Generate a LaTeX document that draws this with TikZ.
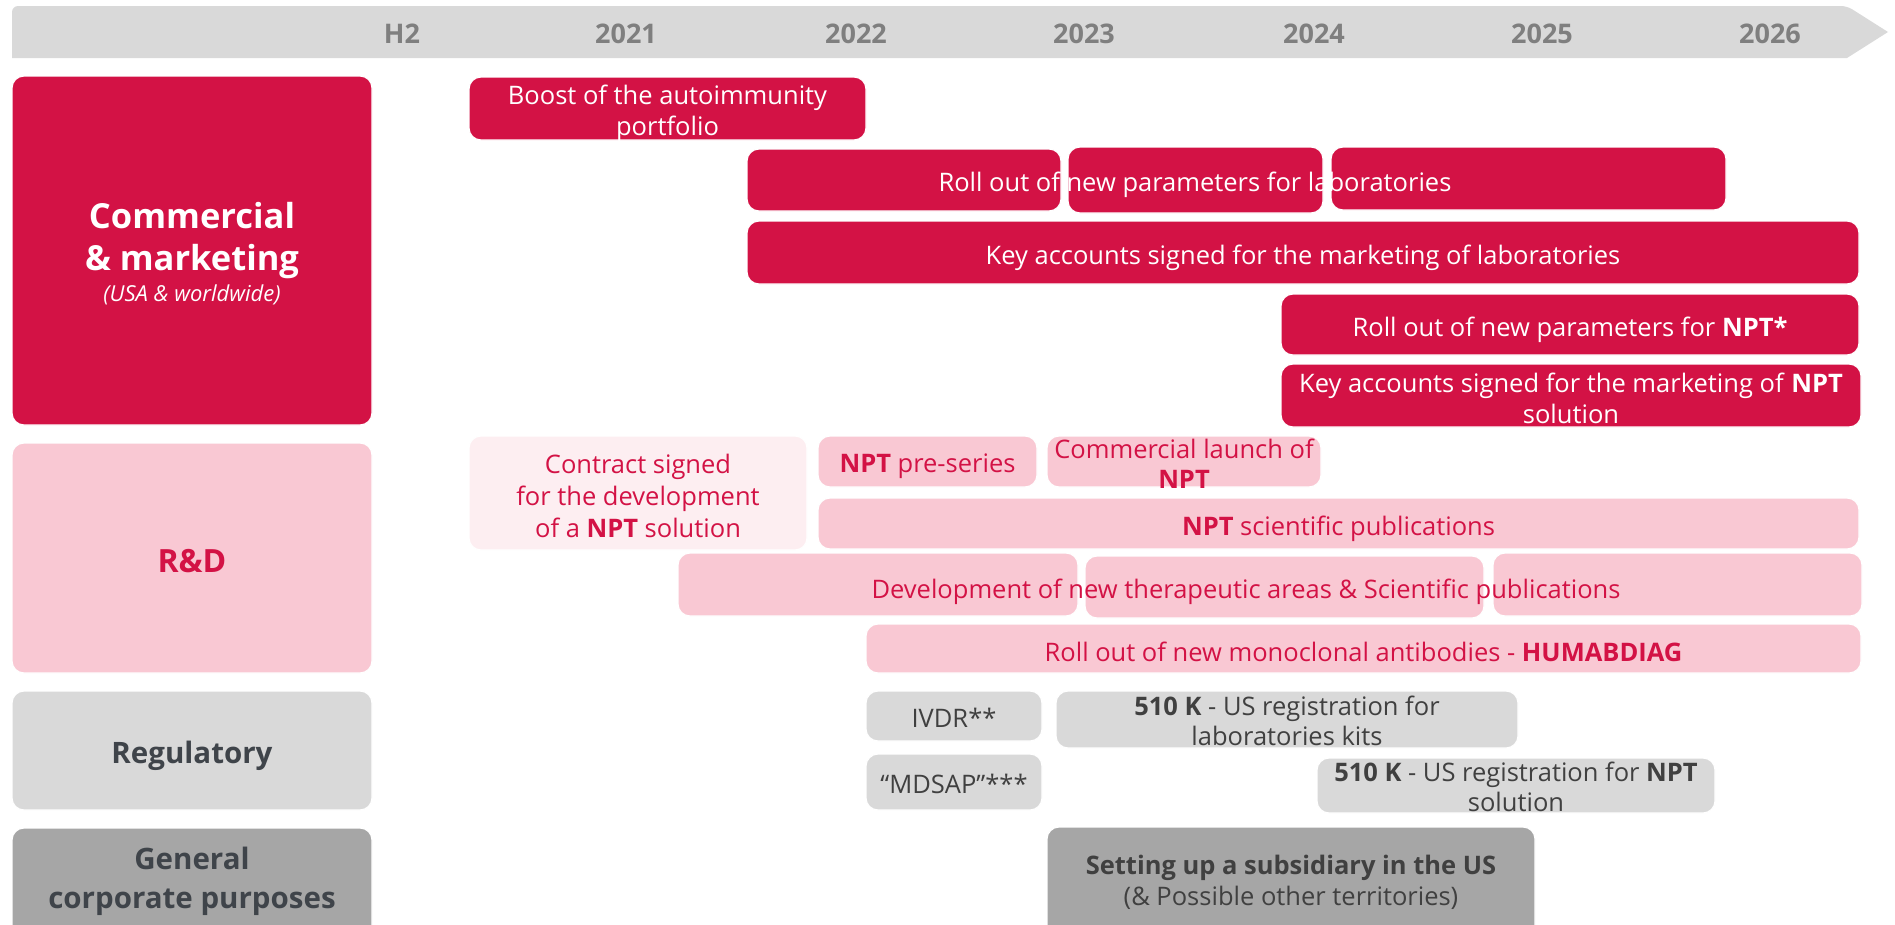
\documentclass[tikz,border=0pt]{standalone}
\usepackage{fontspec}
\setmainfont{Open Sans}
\definecolor{crim}{HTML}{D31245}
\definecolor{pinkA}{HTML}{F9C8D3}
\definecolor{pinkB}{HTML}{FDEEF1}
\definecolor{grayA}{HTML}{D9D9D9}
\definecolor{grayB}{HTML}{A6A6A6}
\definecolor{txtgray}{HTML}{404040}
\definecolor{slate}{HTML}{3F444A}
\definecolor{yeargray}{HTML}{7F7F7F}
\newcommand\tbox[6]{\node[#1, minimum width={(#5-#3)*1pt}, minimum height={(#6-#4)*1pt}] (#2) at ({(#3+#5)/2},{(#4+#6)/2}) {};}
\begin{document}
\begin{tikzpicture}[x=1pt,y=-1pt,
  base/.style={rectangle, rounded corners=12pt, inner sep=0pt, outer sep=0pt, draw=white, line width=1.2pt},
  redbox/.style={base, fill=crim},
  pinkbox/.style={base, fill=pinkA},
  lpinkbox/.style={base, fill=pinkB},
  graybox/.style={base, fill=grayA},
  dgraybox/.style={base, fill=grayB},
  txt/.style={inner sep=0pt, align=center, yshift=-5pt, font=\fontsize{25.5}{30.5}\selectfont},
  wtxt/.style={txt, text=white},
  rtxt/.style={txt, text=crim},
  gtxt/.style={txt, yshift=3.5pt, text=txtgray},
  cat/.style={inner sep=0pt, anchor=base, font=\fontsize{29.5}{36}\selectfont\bfseries, text=slate},
  year/.style={inner sep=0pt, anchor=base, font=\fontsize{27}{32}\selectfont\bfseries, text=yeargray}]
\useasboundingbox (0,0) rectangle (1895,924);
% header arrow
\fill[grayA, rounded corners=6pt] (12,58) -- (12,6) -- (1847,6) [sharp corners] -- (1888,32) -- (1847,58) -- cycle;
\node[year] (yH2) at (402,43) {H2};
\node[year] (y21) at (626,43) {2021};
\node[year] (y22) at (856,43) {2022};
\node[year] (y23) at (1084,43) {2023};
\node[year] (y24) at (1314,43) {2024};
\node[year] (y25) at (1542,43) {2025};
\node[year] (y26) at (1770,43) {2026};
% category boxes
\tbox{redbox}{cm}{12}{76}{372}{425}
\node[cat, text=white, font=\fontsize{34.5}{40}\selectfont\bfseries] (cmt1) at (192,228) {Commercial};
\node[cat, text=white, font=\fontsize{34.5}{40}\selectfont\bfseries] (cmt2) at (192,270) {\& marketing};
\node[cat, text=white, font=\fontsize{22}{26}\selectfont\itshape] (cms) at (192,301) {(USA \& worldwide)};
\tbox{pinkbox}{rd}{12}{443}{372}{673}
\node[cat, text=crim, font=\fontsize{32}{38}\selectfont\bfseries] (rdt) at (192,572) {R\&D};
\tbox{graybox}{rg}{12}{691}{372}{810}
\node[cat] (rgt) at (192,763) {Regulatory};
\tbox{dgraybox}{gc}{12}{828}{372}{940}
\node[cat] (gct1) at (192,869) {General};
\node[cat] (gct2) at (192,908) {corporate purposes};
% commercial row
\tbox{redbox}{boost}{469}{77}{866}{140}
\node[wtxt] (boostt) at (boost) {Boost of the autoimmunity\\portfolio};
\tbox{redbox}{rla}{747}{149}{1061}{211}
\tbox{redbox}{rlb}{1068}{147}{1323}{213}
\tbox{redbox}{rlc}{1331}{147}{1726}{210}
\node[wtxt] (rlt) at (1195,180) {Roll out of new parameters for laboratories};
\tbox{redbox}{kal}{747}{221}{1859}{284}
\node[wtxt] (kalt) at (kal) {Key accounts signed for the marketing of laboratories};
\tbox{redbox}{rln}{1281}{294}{1859}{355}
\node[wtxt] (rlnt) at (rln) {Roll out of new parameters for \textbf{NPT*}};
\tbox{redbox}{kan}{1281}{364}{1861}{427}
\node[wtxt] (kant) at ([yshift=2pt]kan.center) {Key accounts signed for the marketing of \textbf{NPT}\\solution};
% R&D row
\tbox{lpinkbox}{cs}{469}{436}{807}{550}
\node[rtxt, font=\fontsize{25.5}{32}\selectfont] (cst) at ([yshift=2pt]cs.center) {Contract signed\\for the development\\of a \textbf{NPT} solution};
\tbox{pinkbox}{ps}{818}{436}{1037}{487}
\node[rtxt] (pst) at (ps) {\textbf{NPT} pre-series};
\tbox{pinkbox}{cl}{1047}{436}{1321}{487}
\node[rtxt] (clt) at ([yshift=3pt]cl.center) {Commercial launch of\\\textbf{NPT}};
\tbox{pinkbox}{sp}{818}{498}{1859}{549}
\node[rtxt] (spt) at (sp) {\textbf{NPT} scientific publications};
\tbox{pinkbox}{dva}{678}{553}{1078}{616}
\tbox{pinkbox}{dvb}{1085}{556}{1484}{618}
\tbox{pinkbox}{dvc}{1493}{553}{1862}{616}
\node[rtxt] (dvt) at (1246,587) {Development of new therapeutic areas \& Scientific publications};
\tbox{pinkbox}{mo}{866}{624}{1861}{673}
\node[rtxt] (mot) at ([yshift=2pt]mo.center) {Roll out of new monoclonal antibodies - \textbf{HUMABDIAG}};
% regulatory row
\tbox{graybox}{iv}{866}{691}{1042}{741}
\node[gtxt] (ivt) at (iv) {IVDR**};
\tbox{graybox}{md}{866}{754}{1042}{810}
\node[gtxt] (mdt) at (md) {“MDSAP”***};
\tbox{graybox}{kl}{1056}{691}{1518}{748}
\node[gtxt] (klt) at (kl) {\textbf{510 K} - US registration for\\laboratories kits};
\tbox{graybox}{kn}{1317}{758}{1715}{813}
\node[gtxt] (knt) at (kn) {\textbf{510 K} - US registration for \textbf{NPT}\\solution};
% general row
\tbox{dgraybox}{su}{1047}{827}{1535}{940}
\node[gtxt] (sut) at (1291,881) {\textbf{Setting up a subsidiary in the US}\\(\& Possible other territories)};
\end{tikzpicture}
\end{document}
